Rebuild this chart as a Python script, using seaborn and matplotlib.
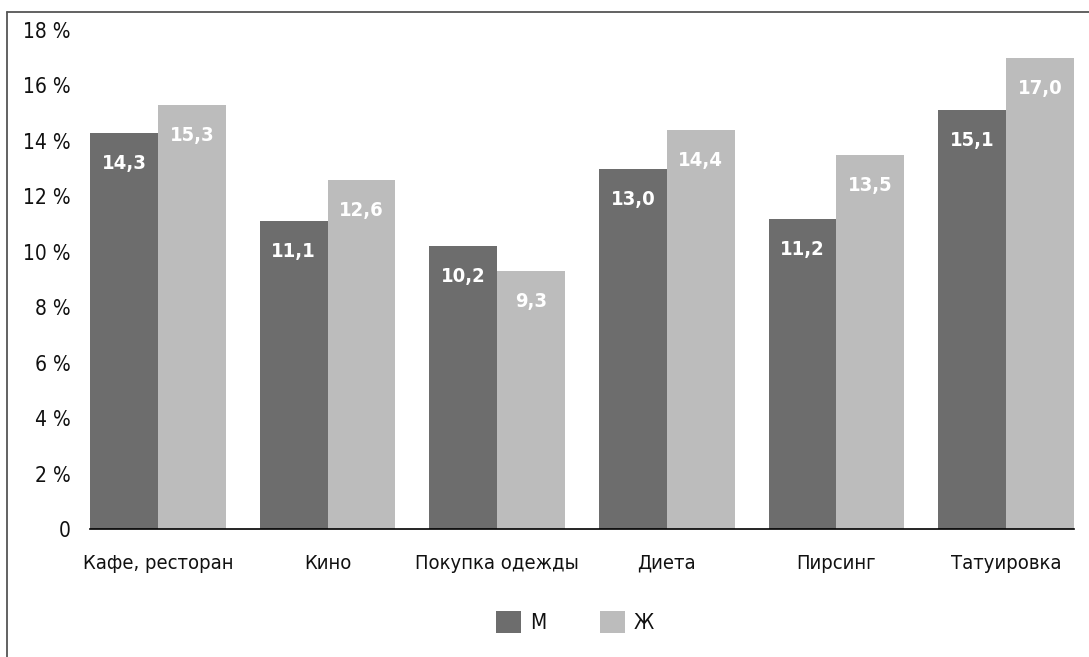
import matplotlib
matplotlib.use("Agg")
import matplotlib.pyplot as plt
from matplotlib.lines import Line2D
from matplotlib.patches import Patch
import seaborn as sns
import pandas as pd

categories = ["Кафе, ресторан", "Кино", "Покупка одежды", "Диета", "Пирсинг", "Татуировка"]
men = [14.3, 11.1, 10.2, 13.0, 11.2, 15.1]
women = [15.3, 12.6, 9.3, 14.4, 13.5, 17.0]
series_names = ["М", "Ж"]
yticks = [0, 2, 4, 6, 8, 10, 12, 14, 16, 18]
ytick_labels = ["0"] + [f"{t} %" for t in yticks[1:]]
colors = ["#6d6d6d", "#bcbcbc"]

sns.set_theme(style="white")
plt.rcParams["font.family"] = ["DejaVu Sans"]
plt.rcParams["font.stretch"] = "condensed"

df = pd.DataFrame({
    "cat": categories * 2,
    "val": men + women,
    "sex": [series_names[0]] * len(categories) + [series_names[1]] * len(categories),
})

fig = plt.figure(figsize=(10.89, 6.57), dpi=100)
ax = fig.add_axes([90 / 1089, 1 - 529 / 657, (1074 - 90) / 1089, (529 - 30) / 657])
sns.barplot(data=df, x="cat", y="val", hue="sex", palette=colors, width=0.8,
            saturation=1, ax=ax, legend=False, errorbar=None, linewidth=0)

ax.set_xlim(-0.4, len(categories) - 0.6)
ax.set_ylim(0, 18)
ax.set_yticks(yticks)
ax.set_yticklabels(ytick_labels, fontsize=15, color="#111111")
ax.set_xticks(range(len(categories)))
ax.set_xticklabels(categories, fontsize=14.5, color="#111111")
ax.tick_params(axis="x", length=0, pad=18)
ax.tick_params(axis="y", length=0, pad=14)
ax.set_xlabel("")
ax.set_ylabel("")
for s in ["top", "right", "left"]:
    ax.spines[s].set_visible(False)
ax.spines["bottom"].set_color("black")
ax.spines["bottom"].set_linewidth(1.2)
ax.grid(False)

for container in ax.containers:
    for bar in container:
        h = bar.get_height()
        ax.text(bar.get_x() + bar.get_width() / 2, h - 1.1, f"{h:.1f}".replace(".", ","),
                ha="center", va="center", color="white", fontsize=14.5, fontweight="bold")

handles = [Patch(facecolor=c, edgecolor="none") for c in colors]
fig.legend(handles, series_names, loc="center", bbox_to_anchor=(575 / 1089, 1 - 622 / 657),
           ncol=2, frameon=False, fontsize=15, handlelength=1.2, handleheight=1.2,
           handletextpad=0.4, columnspacing=2.6, labelcolor="#111111")

fig.add_artist(Line2D([7 / 1089, 7 / 1089], [0, 1 - 12 / 657], transform=fig.transFigure,
                      color="#555555", linewidth=1.3))
fig.add_artist(Line2D([7 / 1089, 1], [1 - 12 / 657, 1 - 12 / 657], transform=fig.transFigure,
                      color="#555555", linewidth=1.3))

fig.savefig("out.png", dpi=100)
